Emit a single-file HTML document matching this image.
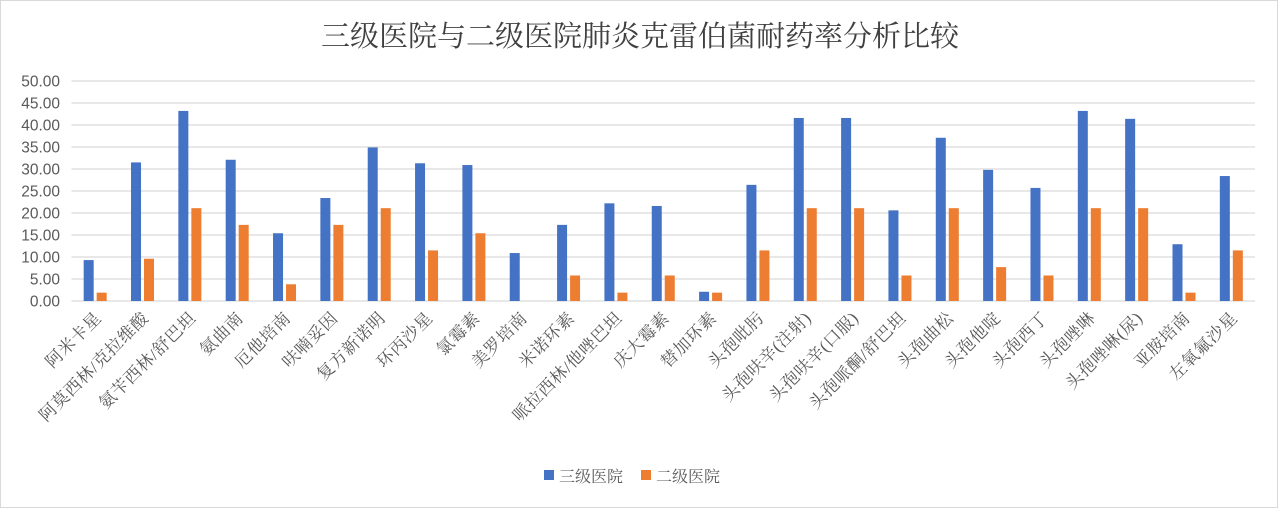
<!DOCTYPE html>
<html><head><meta charset="utf-8">
<style>
body{margin:0;background:#fff;}
#wrap{position:relative;width:1278px;height:508px;box-sizing:border-box;border:1px solid #d9d9d9;background:#fff;}
</style></head>
<body>
<div id="wrap">
<svg id="chart" width="1276" height="506" xmlns="http://www.w3.org/2000/svg">
<text x="639" y="45" text-anchor="middle" font-family="'Liberation Serif','Noto Serif CJK SC',serif" font-size="29" fill="#404040">三级医院与二级医院肺炎克雷伯菌耐药率分析比较</text>
<g id="grid"></g><g id="bars"></g><g id="xlabels"></g><g id="ylabels"></g>
<g>
<rect x="543" y="469" width="10" height="10" fill="#4472c4"/>
<text x="558" y="481" font-family="'Liberation Serif','Noto Serif CJK SC',serif" font-size="16" fill="#595959">三级医院</text>
<rect x="640" y="469" width="10" height="10" fill="#ed7d31"/>
<text x="655" y="481" font-family="'Liberation Serif','Noto Serif CJK SC',serif" font-size="16" fill="#595959">二级医院</text>
</g>
</svg>
</div>
<script>
const categories=["阿米卡星","阿莫西林/克拉维酸","氨苄西林/舒巴坦","氨曲南","厄他培南","呋喃妥因","复方新诺明","环丙沙星","氯霉素","美罗培南","米诺环素","哌拉西林/他唑巴坦","庆大霉素","替加环素","头孢吡肟","头孢呋辛(注射)","头孢呋辛(口服)","头孢哌酮/舒巴坦","头孢曲松","头孢他啶","头孢西丁","头孢唑啉","头孢唑啉(尿)","亚胺培南","左氧氟沙星"];
const tertiary=[9.3,31.5,43.2,32.1,15.4,23.4,34.9,31.3,30.9,10.9,17.3,22.2,21.6,2.1,26.4,41.6,41.6,20.6,37.1,29.8,25.7,43.2,41.4,12.9,28.4];
const secondary=[1.9,9.6,21.1,17.3,3.8,17.3,21.1,11.5,15.4,0,5.8,1.9,5.8,1.9,11.5,21.1,21.1,5.8,21.1,7.7,5.8,21.1,21.1,1.9,11.5];
const yTicks=[0,5,10,15,20,25,30,35,40,45,50];
const NS="http://www.w3.org/2000/svg";
const left=70.5,right=1254,y0=300,yTop=80,yMax=50;
const step=(right-left)/categories.length;
function yScale(v){return y0-(v/yMax)*(y0-yTop);}
function xCenter(i){return left+step*(i+0.5);}
function mk(tag,attrs){const e=document.createElementNS(NS,tag);for(const k in attrs)e.setAttribute(k,attrs[k]);return e;}
const grid=document.getElementById('grid'),bars=document.getElementById('bars'),xl=document.getElementById('xlabels'),yl=document.getElementById('ylabels');
yTicks.forEach(t=>{
 const y=yScale(t);
 const l=mk('line',{x1:left,x2:right,y1:y,y2:y,stroke:'#d9d9d9','stroke-width':1.3});
 
 
 grid.appendChild(l);
 const tx=mk('text',{x:59,y:y+5.5,'text-anchor':'end','font-family':"'Liberation Sans',sans-serif",'font-size':15.5,fill:'#595959'});
 tx.textContent=t.toFixed(2);
 
 
 yl.appendChild(tx);
});
categories.forEach((c,i)=>{
 const cx=xCenter(i);
 const b1=mk('rect',{x:cx-11.5,y:yScale(tertiary[i]),width:10,height:y0-yScale(tertiary[i]),fill:'#4472c4'});
 
 
 bars.appendChild(b1);
 const b2=mk('rect',{x:cx+1.5,y:yScale(secondary[i]),width:10,height:y0-yScale(secondary[i]),fill:'#ed7d31'});
 
 
 bars.appendChild(b2);
 const tx=mk('text',{x:0,y:0,'text-anchor':'end','font-family':"'Liberation Serif','Noto Serif CJK SC',serif",'font-size':17,'letter-spacing':0.6,fill:'#595959',transform:`translate(${cx+7},${318}) rotate(-45)`});
 tx.textContent=c;
 
 
 xl.appendChild(tx);
});
</script>
</body></html>
